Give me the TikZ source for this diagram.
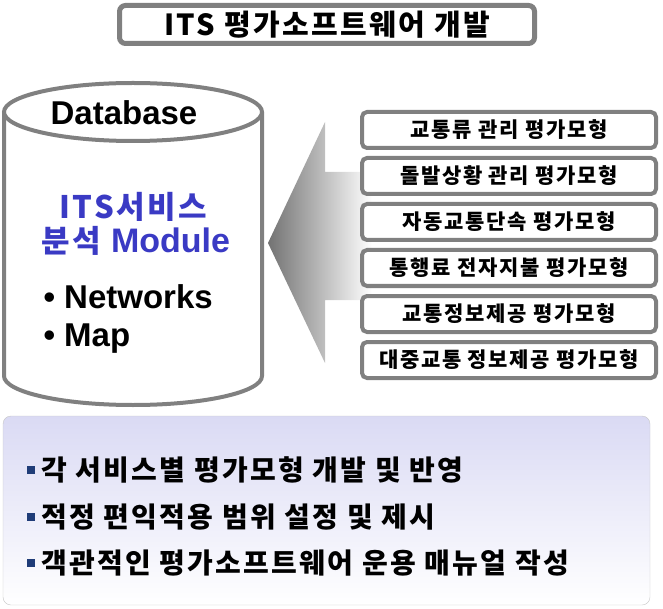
\documentclass[tikz,border=0pt]{standalone}
\usepackage{fontspec}
\setmainfont{Noto Sans CJK KR}[LetterSpace=8]
\newfontfamily\latinsf{Liberation Sans}
\usetikzlibrary{positioning}
\definecolor{framegray}{HTML}{808080}
\definecolor{moduleblue}{HTML}{3A3AC4}
\definecolor{lavender}{HTML}{DADAF4}
\definecolor{bulletnavy}{HTML}{1F3C78}
\tikzset{
  titlebox/.style={draw=framegray,line width=5pt,rounded corners=6pt,fill=white,
    minimum width=415pt,minimum height=38pt,font=\fontsize{29}{31}\selectfont\bfseries},
  modelbox/.style={draw=framegray,line width=4pt,rounded corners=5pt,fill=white,
    minimum width=294pt,minimum height=36pt,font=\fontsize{21}{23}\selectfont\bfseries},
  cylline/.style={draw=framegray,line width=4pt,fill=white},
  goalline/.style={anchor=west,inner sep=0pt,font=\fontsize{28}{30}\selectfont\bfseries},
  bulletsq/.style={fill=bulletnavy,minimum size=8pt,inner sep=0pt}
}

\begin{document}
\begin{tikzpicture}[x=1pt,y=-1pt]
  \useasboundingbox (0,0) rectangle (663,609);

  % title
  \node[titlebox] (title) at (327,24.5) {ITS 평가소프트웨어 개발};

  % arrow from the models to the database
  \shade[left color=black!55,right color=white]
    (268,243) -- (325,122) -- (325,172) -- (372,172) -- (372,300)
    -- (325,300) -- (325,363) -- cycle;

  % database cylinder
  \coordinate (dbtop) at (133,112);
  \filldraw[cylline] (4,112) -- (4,376) arc[start angle=180,end angle=0,x radius=129,y radius=29]
    -- (262,112);
  \draw[cylline] (dbtop) ellipse [x radius=129,y radius=29];
  \node[font=\latinsf\bfseries\fontsize{33}{36}\selectfont] (db) at (124,113) {Database};
  \node[font=\bfseries\fontsize{31}{33}\selectfont,text=moduleblue] (svc) at (133,207) {ITS서비스};
  \node[font=\bfseries\fontsize{31}{33}\selectfont,text=moduleblue] (mod) at (136,241)
    {분석 {\latinsf\fontsize{34}{36}\selectfont Module}};
  \node[anchor=west,font=\latinsf\bfseries\fontsize{33}{36}\selectfont] (net) at (40,297) {• Networks};
  \node[anchor=west,font=\latinsf\bfseries\fontsize{33}{36}\selectfont] (map) at (40,339) {• Map};

  % evaluation models
  \foreach \txt [count=\i] in {교통류 관리 평가모형,돌발상황 관리 평가모형,자동교통단속 평가모형,
      통행료 전자지불 평가모형,교통정보제공 평가모형,대중교통 정보제공 평가모형}
    \node[modelbox] (m\i) at (509,{130+46*(\i-1)}) {\txt};

  % goals
  \node[draw=gray!45,rounded corners=8pt,top color=lavender,bottom color=white,
    minimum width=647pt,minimum height=189pt] (goals) at (326.5,510.5) {};
  \node[bulletsq] (b1) at (31,470) {};
  \node[bulletsq] (b2) at (31,517) {};
  \node[bulletsq] (b3) at (31,563) {};
  \node[goalline,right=6pt of b1] (g1) {각 서비스별 평가모형 개발 및 반영};
  \node[goalline,right=6pt of b2] (g2) {적정 편익적용 범위 설정 및 제시};
  \node[goalline,right=6pt of b3] (g3) {객관적인 평가소프트웨어 운용 매뉴얼 작성};
\end{tikzpicture}
\end{document}
